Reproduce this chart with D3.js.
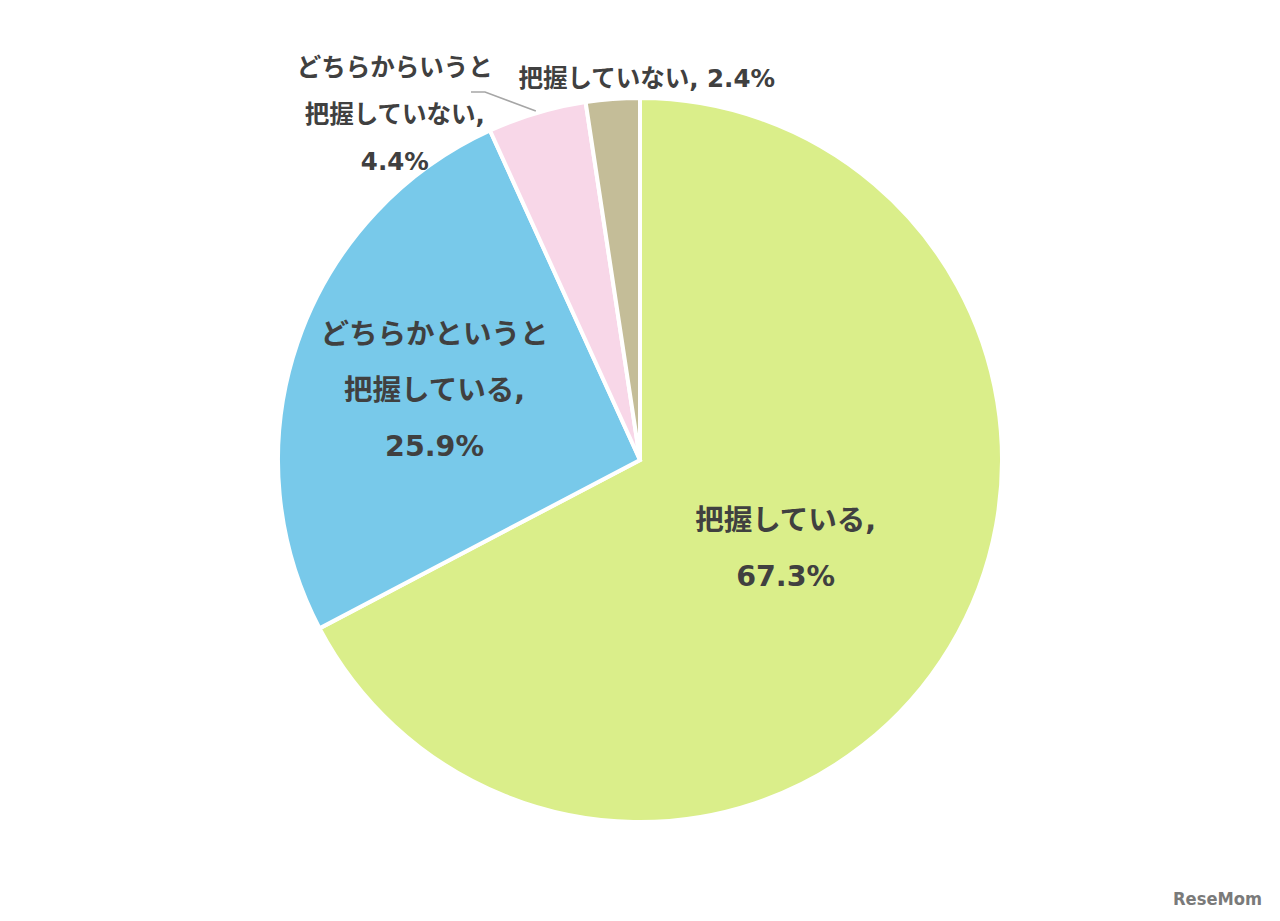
<!DOCTYPE html>
<html>
<head>
<meta charset="utf-8">
<script src="https://cdn.jsdelivr.net/npm/d3@7.9.0/dist/d3.min.js"></script>
<style>
  body { margin: 0; background: #fff; }
  svg text { font-family: "DejaVu Sans", "Noto Sans CJK JP", sans-serif; font-weight: bold; fill: #404040; }
</style>
</head>
<body>
<svg id="chart" width="1280" height="921"></svg>
<script>
// data
const categories = ['把握している', 'どちらかというと把握している', 'どちらからいうと把握していない', '把握していない'];
const values = [67.3, 25.9, 4.4, 2.4];
const colors = ['#daee8a', '#78c9ea', '#f8d7e8', '#c4bd98'];

// label lines for each slice
const labelLines = [
  ['把握している,', '67.3%'],
  ['どちらかというと', '把握している,', '25.9%'],
  ['どちらからいうと', '把握していない,', '4.4%'],
  ['把握していない, 2.4%']
];

const width = 1280, height = 921;
const cx = 640, cy = 460, radius = 362;

const svg = d3.select('#chart');
const g = svg.append('g').attr('transform', `translate(${cx},${cy})`);

const pie = d3.pie().sort(null).value(d => d)(values);
const arc = d3.arc().innerRadius(0).outerRadius(radius);

g.selectAll('path.slice')
  .data(pie)
  .join('path')
  .attr('class', 'slice')
  .attr('d', arc)
  .attr('fill', (d, i) => colors[i])
  .attr('stroke', '#fff')
  .attr('stroke-width', 4)
  .attr('stroke-linejoin', 'miter');

// label placement: radius factor from centre plus nudges for the outside ones
const labelPos = [
  { r: 0.47, dx: 0, dy: 0, size: 28.5, gap: 56 },
  { r: 0.60, dx: 0, dy: 0, size: 28.5, gap: 56 },
  { r: 1.0, dx: -142, dy: 1, size: 24.5, gap: 47 },
  { r: 1.0, dx: 34, dy: -21, size: 24.5, gap: 47 }
];

function anchor(d, i) {
  const a = (d.startAngle + d.endAngle) / 2;
  const p = labelPos[i];
  return [Math.sin(a) * radius * p.r + p.dx, -Math.cos(a) * radius * p.r + p.dy];
}

pie.forEach((d, i) => {
  const [x, y] = anchor(d, i);
  const p = labelPos[i];
  const lines = labelLines[i];
  const t = g.append('text')
    .attr('text-anchor', 'middle')
    .attr('font-size', p.size);
  lines.forEach((ln, k) => {
    t.append('tspan')
      .attr('x', x)
      .attr('y', y + (k - (lines.length - 1) / 2) * p.gap)
      .attr('dy', '0.35em')
      .text(ln);
  });
});

// leader line for the small pink slice
const pinkMid = (pie[2].startAngle + pie[2].endAngle) / 2;
const edge = [Math.sin(pinkMid) * radius - 1, -Math.cos(pinkMid) * radius - 2];
g.append('polyline')
  .attr('points', [[-169, -368], [-155, -368], edge].map(p => p.join(',')).join(' '))
  .attr('fill', 'none')
  .attr('stroke', '#a6a6a6')
  .attr('stroke-width', 1.5);

// watermark
svg.append('text')
  .attr('x', 1262)
  .attr('y', 905)
  .attr('text-anchor', 'end')
  .attr('font-size', 18.5)
  .attr('textLength', 89)
  .attr('lengthAdjust', 'spacingAndGlyphs')
  .style('fill', '#7a7a7a')
  .text('ReseMom');
</script>
</body>
</html>
